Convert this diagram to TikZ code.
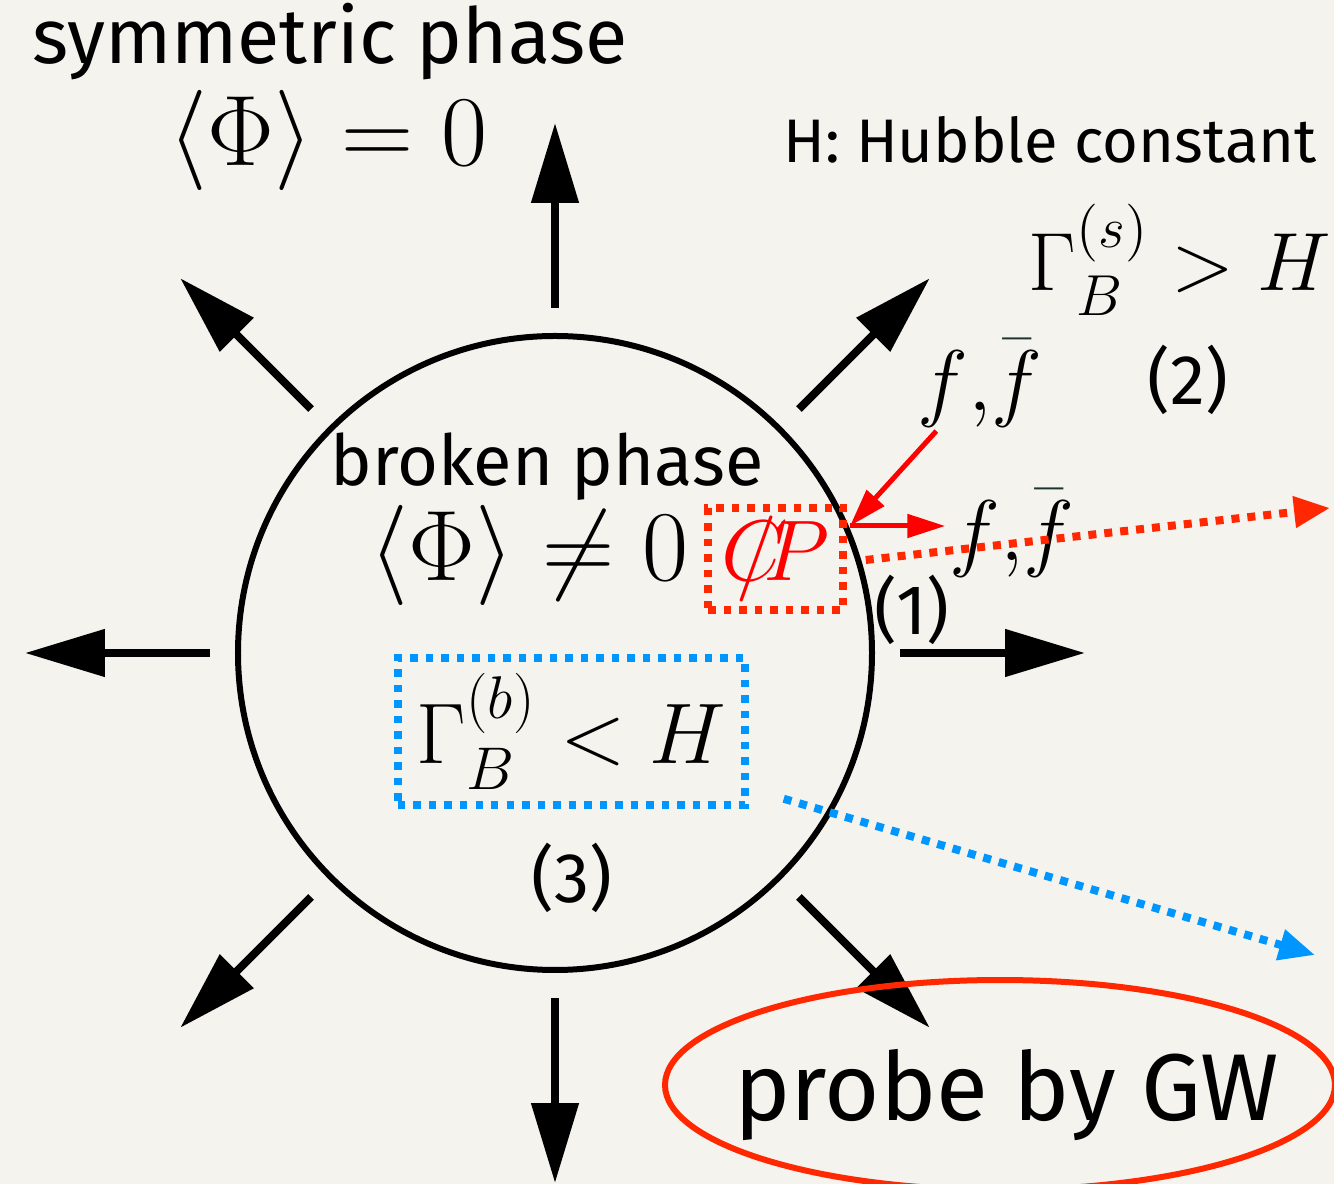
\RequirePackage{fix-cm}
\documentclass[tikz,border=0pt]{standalone}
\usepackage[no-math]{fontspec}
\usepackage{amsmath}
\usepackage{tikz}
\usetikzlibrary{arrows.meta, shapes.geometric, positioning, calc}
\newfontfamily\handfont{Fira Sans}
\definecolor{cPaper}{RGB}{245,243,238}
\definecolor{cRed}{RGB}{255,0,0}
\definecolor{cDotRed}{RGB}{255,40,0}
\definecolor{cDotBlue}{RGB}{0,150,255}
\definecolor{cBar}{RGB}{30,50,50}
\newcommand{\fbar}{f{,}{\color{cBar}\bar{{\color{black}f}}}}
\tikzset{
	hand/.style     ={font=\handfont\fontsize{20}{24}\selectfont, inner sep=1pt},
	bigmath/.style  ={font=\fontsize{28.5}{32}\selectfont, inner sep=1pt},
	ratemath/.style ={font=\fontsize{24.5}{28}\selectfont, inner sep=1pt},
	bubblearrow/.style={-{Triangle[length=0.8cm, width=0.46cm]}, line width=0.08cm},
	cparrow/.style  ={-{Triangle[length=0.38cm, width=0.23cm]}, line width=0.05cm, cRed},
	% dotted boxes and arrows
	cpbox/.style    ={rectangle, draw=cDotRed, line width=0.075cm, dash pattern=on 0.075cm off 0.08cm, minimum width=1.35cm, minimum height=1.02cm, inner sep=0pt},
	ratebox/.style  ={rectangle, draw=cDotBlue, line width=0.075cm, dash pattern=on 0.075cm off 0.08cm, minimum width=3.47cm, minimum height=1.47cm, inner sep=0pt},
	dotarrow/.style ={-{Triangle[length=0.36cm, width=0.3cm]}, line width=0.08cm, dash pattern=on 0.08cm off 0.08cm},
	gwring/.style   ={ellipse, draw=cDotRed, line width=0.06cm, minimum width=6.7cm, minimum height=2.1cm},
}
\begin{document}
\begin{tikzpicture}
	\fill[cPaper] (-5.55,-5.31) rectangle (7.79,6.53);
	\useasboundingbox (-5.55,-5.31) rectangle (7.79,6.53);
	% bubble wall and expansion
	\node[circle, draw, line width=0.06cm, minimum size=6.34cm] (bubble) at (0,0) {};
	\foreach \a in {0,45,...,315} {\draw[bubblearrow] (\a:3.45) -- (\a:5.30);}
	% outside: symmetric phase
	\node[hand, font=\handfont\fontsize{22}{24}\selectfont] (symtext) at (-2.25,6.11) {symmetric phase};
	\node[bigmath] (symvev) at (-2.27,5.13) {$\langle\Phi\rangle = 0$};
	\node[hand, font=\handfont\fontsize{17.5}{20}\selectfont] (hubble) at (4.95,5.13) {H: Hubble constant};
	\node[ratemath, font=\fontsize{23.5}{28}\selectfont] (rateS) at (6.25,3.93) {$\Gamma_B^{(s)} > H$};
	\node[ratemath] (ffin) at (4.25,2.70) {$\fbar$};
	\node[hand, font=\handfont\fontsize{20}{22}\selectfont] (label2) at (6.33,2.73) {(2)};
	% inside: broken phase
	\node[hand] (brtext) at (-0.08,1.86) {broken phase};
	\node[bigmath] (brvev) at (-0.26,0.98) {$\langle\Phi\rangle \neq 0$};
	\node[cpbox, text=cRed, font=\fontsize{24.5}{27}\selectfont] (cp) at (2.205,0.94) {$C\mkern-11mu/\mkern-3mu P$};
	\node[ratemath] (ffout) at (4.57,1.20) {$\fbar$};
	\node[hand, font=\handfont\fontsize{20}{22}\selectfont] (label1) at (3.57,0.43) {(1)};
	\node[ratebox, ratemath] (rateB) at (0.165,-0.785) {$\Gamma_B^{(b)} < H$};
	\node[hand, font=\handfont\fontsize{20}{22}\selectfont] (label3) at (0.17,-2.25) {(3)};
	% particles hitting the wall
	\coordinate (wall) at (2.95,1.27);
	\draw[cparrow] (ffin) -- (wall);
	\draw[cparrow] (wall) -- (wall -| ffout.west);
	\coordinate (cpout) at (7.75,1.45);
	\coordinate (gwout) at (7.60,-3.02);
	\draw[dotarrow, cDotRed] (cp.east) ++(0.19,-0.01) -- (cpout);
	\draw[dotarrow, cDotBlue] (rateB.south east) ++(0.35,0.10) -- (gwout);
	% gravitational waves
	\node[gwring] (gw) at (4.45,-4.32) {};
	\node[hand, font=\handfont\fontsize{27}{29}\selectfont] (gwtext) at (4.52,-4.42) {probe by GW};
\end{tikzpicture}
\end{document}
